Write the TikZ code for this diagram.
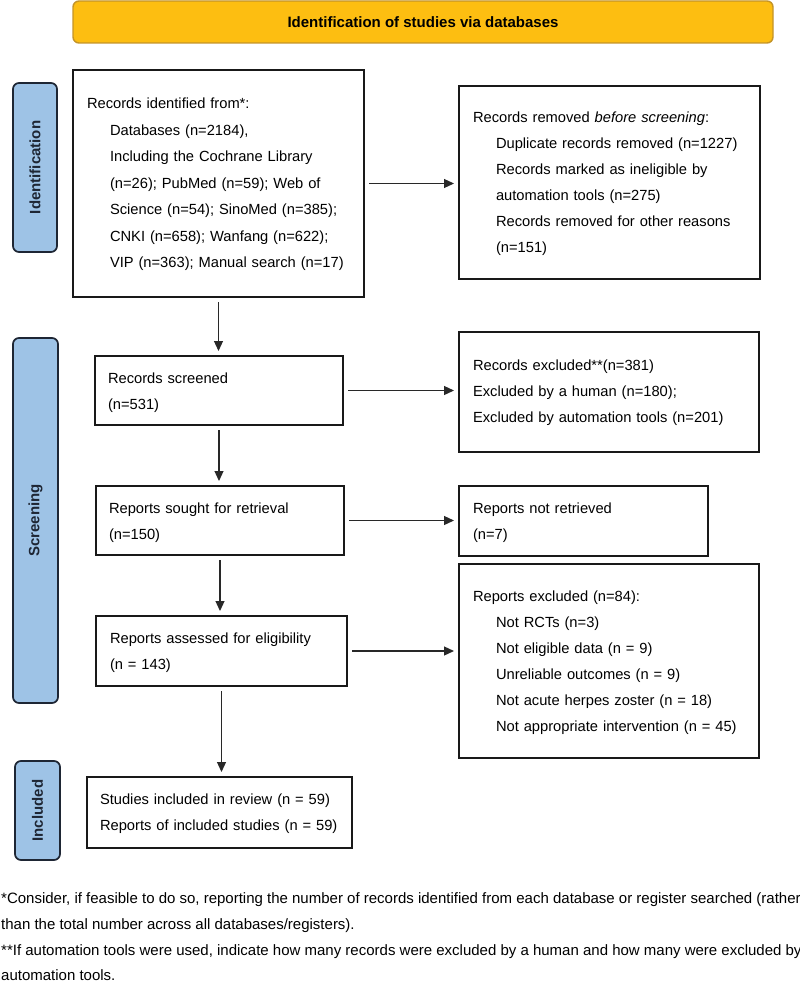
\documentclass[tikz,border=0pt]{standalone}
\usepackage{fontspec}
\setmainfont{Liberation Sans}
\usetikzlibrary{arrows.meta,calc}
\definecolor{gold}{RGB}{253,190,17}
\definecolor{goldline}{RGB}{196,148,40}
\definecolor{sideblue}{RGB}{158,195,230}
\definecolor{sideline}{RGB}{30,38,52}
\definecolor{boxline}{RGB}{25,25,25}
\definecolor{arrowgray}{RGB}{40,40,40}
\tikzset{
  box/.style={draw=boxline, line width=1.8pt, rectangle, anchor=north west,
    align=left, inner xsep=14pt, inner ysep=0pt, outer sep=0pt,
    font=\fontsize{14.7}{26}\selectfont},
  sidelab/.style={draw=sideline, line width=1.7pt, fill=sideblue, rounded corners=6pt,
    rotate=90, font=\bfseries\fontsize{15}{18}\selectfont, text=sideline,
    inner sep=0pt, outer sep=0pt},
  banner/.style={draw=goldline, line width=1.4pt, fill=gold, rounded corners=6pt,
    font=\bfseries\fontsize{15}{18}\selectfont, inner sep=0pt},
  flow/.style={draw=arrowgray, line width=1.2pt, -{Triangle[length=10pt,width=9pt]},
    shorten <=5pt, shorten >=5pt},
  foot/.style={anchor=base west, inner sep=0pt, font=\fontsize{15}{18}\selectfont}
}
\newcommand{\ind}{\hspace*{23pt}}
\newcommand{\tstrut}{\rule{0pt}{13pt}}
\begin{document}
\begin{tikzpicture}[x=1pt,y=-1pt]
\useasboundingbox (0,0) rectangle (800,982);

\node[banner, minimum width=700pt, minimum height=42pt] (ban) at (423,22)
  {Identification of studies via databases};

\node[sidelab, minimum width=169pt, minimum height=44pt] (sid) at (35,167.5) {Identification};
\node[sidelab, minimum width=365pt, minimum height=45pt] (sscr) at (35.5,520.5) {Screening};
\node[sidelab, minimum width=99pt, minimum height=45pt] (sinc) at (37.5,810.5) {Included};

\node[box, text width=263pt, minimum height=227pt, font=\fontsize{14.7}{26.5}\selectfont] (b1) at (73,70)
  {\tstrut Records identified from*:\\
   \ind Databases (n=2184),\\
   \ind Including the Cochrane Library\\
   \ind (n=26); PubMed (n=59); Web of\\
   \ind Science (n=54); SinoMed (n=385);\\
   \ind CNKI (n=658); Wanfang (n=622);\\
   \ind VIP (n=363); Manual search (n=17)};

\node[box, text width=273pt, minimum height=193pt] (b2) at (459,86)
  {\tstrut Records removed \textit{before screening}:\\
   \ind Duplicate records removed (n=1227)\\
   \ind Records marked as ineligible by\\
   \ind automation tools (n=275)\\
   \ind Records removed for other reasons\\
   \ind (n=151)};

\node[box, inner xsep=13pt, text width=222pt, minimum height=69pt] (scr) at (95,356)
  {\rule{0pt}{15pt}Records screened\\(n=531)};
\node[box, text width=272pt, minimum height=120pt] (exc) at (459,332)
  {\tstrut Records excluded**(n=381)\\
   Excluded by a human (n=180);\\
   Excluded by automation tools (n=201)};

\node[box, inner xsep=13pt, text width=222pt, minimum height=69pt] (sgt) at (96,486)
  {\rule{0pt}{15pt}Reports sought for retrieval\\(n=150)};
\node[box, text width=221pt, minimum height=70pt] (nrt) at (459,486)
  {\rule{0pt}{15pt}Reports not retrieved\\(n=7)};

\node[box, text width=223pt, minimum height=70pt] (asd) at (96,616)
  {\rule{0pt}{15pt}Reports assessed for eligibility\\(n = 143)};
\node[box, text width=272pt, minimum height=194pt] (rex) at (459,564)
  {\rule{0pt}{15pt}Reports excluded (n=84):\\
   \ind Not RCTs (n=3)\\
   \ind Not eligible data (n = 9)\\
   \ind Unreliable outcomes (n = 9)\\
   \ind Not acute herpes zoster (n = 18)\\
   \ind Not appropriate intervention (n = 45)};

\node[box, inner xsep=13pt, text width=239pt, minimum height=71pt] (inc) at (87,777)
  {\rule{0pt}{14pt}Studies included in review (n = 59)\\
   \mbox{Reports of included studies (n = 59)}};

\draw[flow] (b1.east) -- (b1.east -| b2.west);
\draw[flow] (b1.south) -- (b1.south |- scr.north);
\draw[flow] (scr.east) -- (scr.east -| exc.west);
\draw[flow] (scr.south) -- (scr.south |- sgt.north);
\draw[flow] (sgt.east) -- (sgt.east -| nrt.west);
\draw[flow] (sgt.south) -- (sgt.south |- asd.north);
\draw[flow] (asd.east) -- (asd.east -| rex.west);
\draw[flow] (asd.south) -- (asd.south |- inc.north);

\node[foot] (f1) at (1,903) {*Consider, if feasible to do so, reporting the number of records identified from each database or register searched (rather};
\node[foot] (f2) at (1,929) {than the total number across all databases/registers).};
\node[foot] (f3) at (1,955) {**If automation tools were used, indicate how many records were excluded by a human and how many were excluded by};
\node[foot] (f4) at (1,980) {automation tools.};
\end{tikzpicture}
\end{document}
